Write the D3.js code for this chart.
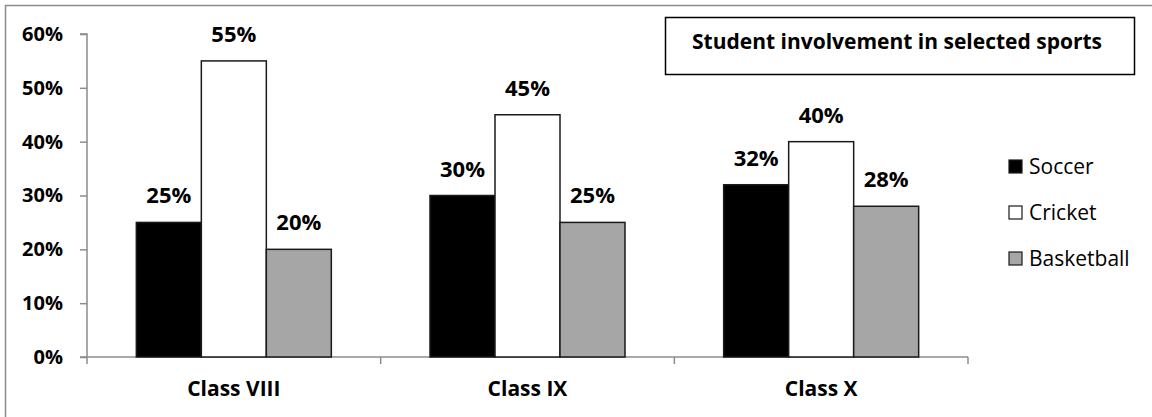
<!DOCTYPE html>
<html>
<head>
<meta charset="utf-8">
<script src="https://cdn.jsdelivr.net/npm/d3@7"></script>
<style>
  body { margin: 0; background: #fff; }
  text { font-family: "Open Sans", sans-serif; }
</style>
</head>
<body>
<div id="chart"></div>
<script>
// chart data
var classes = ["Class VIII", "Class IX", "Class X"];
var sports = ["Soccer", "Cricket", "Basketball"];
var soccer = [25, 30, 32];
var cricket = [55, 45, 40];
var basketball = [20, 25, 28];
var yTicks = [0, 10, 20, 30, 40, 50, 60];
var title = "Student involvement in selected sports";

var width = 1152, height = 417;
var fills = {Soccer: "#000000", Cricket: "#ffffff", Basketball: "#a6a6a6"};
var series = {Soccer: soccer, Cricket: cricket, Basketball: basketball};

var svg = d3.select("#chart").append("svg")
    .attr("width", width)
    .attr("height", height);

svg.append("rect")
    .attr("width", width)
    .attr("height", height)
    .attr("fill", "white");

// outer frame
svg.append("rect")
    .attr("x", 5.5)
    .attr("y", 5.5)
    .attr("width", width + 20)
    .attr("height", height + 20)
    .attr("fill", "none")
    .attr("stroke", "#8c8c8c")
    .attr("stroke-width", 1.5);

var x0 = d3.scaleBand()
    .domain(classes)
    .range([87, 968])
    .paddingInner(0.336)
    .paddingOuter(0.168);

var x1 = d3.scaleBand()
    .domain(sports)
    .range([0, x0.bandwidth()]);

var y = d3.scaleLinear()
    .domain([0, 60])
    .range([357, 34]);

// y axis
var yAxis = svg.append("g")
    .attr("transform", "translate(87,0)")
    .call(d3.axisLeft(y).tickValues(yTicks).tickSize(7).tickPadding(17)
        .tickFormat(function(d){ return d + "%"; }));
yAxis.select(".domain").attr("stroke", "#8c8c8c").attr("stroke-width", 1.5)
    .attr("d", "M-7," + y(60) + "H0V" + y(0));
yAxis.selectAll(".tick line").attr("stroke", "#8c8c8c").attr("stroke-width", 1.5);
yAxis.selectAll(".tick text")
    .attr("font-size", 20)
    .attr("font-weight", "bold")
    .attr("fill", "#000")
    .style("font-family", "'Open Sans', sans-serif");

// x axis
var xAxis = svg.append("g")
    .attr("transform", "translate(0," + y(0) + ")");
xAxis.append("line")
    .attr("x1", 80).attr("x2", 968)
    .attr("stroke", "#8c8c8c").attr("stroke-width", 1.5);
var step = x0.step();
xAxis.selectAll(".xtick")
    .data(d3.range(classes.length + 1))
    .enter().append("line")
    .attr("x1", function(i){ return 87 + i * step; })
    .attr("x2", function(i){ return 87 + i * step; })
    .attr("y1", 0).attr("y2", 7)
    .attr("stroke", "#8c8c8c").attr("stroke-width", 1.5);
xAxis.selectAll(".xlabel")
    .data(classes)
    .enter().append("text")
    .attr("x", function(d){ return x0(d) + x0.bandwidth() / 2; })
    .attr("y", 39)
    .attr("text-anchor", "middle")
    .attr("font-size", 21)
    .attr("font-weight", "bold")
    .text(function(d){ return d; });

// bars
var groups = svg.selectAll(".grp")
    .data(classes)
    .enter().append("g")
    .attr("transform", function(d){ return "translate(" + x0(d) + ",0)"; });

groups.selectAll("rect")
    .data(function(d, i){ return sports.map(function(s){ return {s: s, v: series[s][i]}; }); })
    .enter().append("rect")
    .attr("x", function(d){ return x1(d.s); })
    .attr("y", function(d){ return y(d.v); })
    .attr("width", x1.bandwidth())
    .attr("height", function(d){ return y(0) - y(d.v); })
    .attr("fill", function(d){ return fills[d.s]; })
    .attr("stroke", "#1a1a1a")
    .attr("stroke-width", 1.5);

groups.selectAll("text")
    .data(function(d, i){ return sports.map(function(s){ return {s: s, v: series[s][i]}; }); })
    .enter().append("text")
    .attr("x", function(d){ return x1(d.s) + x1.bandwidth() / 2; })
    .attr("y", function(d){ return y(d.v) - 19; })
    .attr("text-anchor", "middle")
    .attr("font-size", 22)
    .attr("font-weight", "bold")
    .text(function(d){ return d.v + "%"; });

// title box
svg.append("rect")
    .attr("x", 665.5).attr("y", 17.5)
    .attr("width", 469).attr("height", 57)
    .attr("fill", "white")
    .attr("stroke", "#000")
    .attr("stroke-width", 1.5);
svg.append("text")
    .attr("x", 897).attr("y", 49)
    .attr("text-anchor", "middle")
    .attr("font-size", 21)
    .attr("font-weight", "bold")
    .text(title);

// legend
var legend = svg.selectAll(".leg")
    .data(sports)
    .enter().append("g")
    .attr("transform", function(d, i){ return "translate(1009," + (160 + i * 46) + ")"; });
legend.append("rect")
    .attr("width", 13).attr("height", 13)
    .attr("fill", function(d){ return fills[d]; })
    .attr("stroke", "#1a1a1a")
    .attr("stroke-width", 1.2);
legend.append("text")
    .attr("x", 20).attr("y", 14)
    .attr("font-size", 21)
    .text(function(d){ return d; });
</script>
</body>
</html>
